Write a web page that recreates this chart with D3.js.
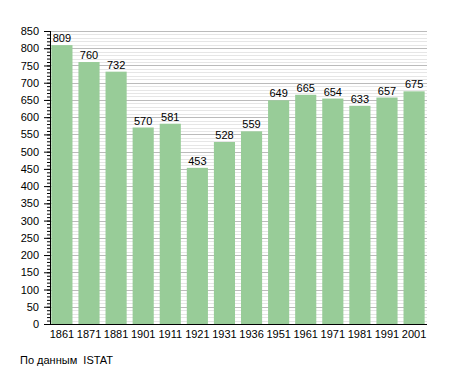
<!DOCTYPE html>
<html>
<head>
<meta charset="utf-8">
<script src="https://cdn.jsdelivr.net/npm/d3@7"></script>
<style>
  body { margin: 0; background: #fff; }
  text { font-family: "Liberation Sans", Arial, sans-serif; fill: #000; }
</style>
</head>
<body>
<svg id="chart" width="455" height="373"></svg>
<script>
let years = ['1861','1871','1881','1901','1911','1921','1931','1936','1951','1961','1971','1981','1991','2001'];
let population = [809,760,732,570,581,453,528,559,649,665,654,633,657,675];
let yTicks = [0,50,100,150,200,250,300,350,400,450,500,550,600,650,700,750,800,850];

let svg = d3.select('#chart');

let x = d3.scaleBand()
  .domain(years)
  .range([50, 426])
  .paddingInner(0.22)
  .paddingOuter(0.05);
let y = d3.scaleLinear()
  .domain([0,850])
  .range([324,31]);

// grid: fine lines every 10, darker every 50
let minor = d3.range(10, 851, 10);
svg.append('g')
  .selectAll('line')
  .data(minor)
  .join('line')
  .attr('x1', 50)
  .attr('x2', 427)
  .attr('y1', function(d){return Math.round(y(d)) + 0.5})
  .attr('y2', function(d){return Math.round(y(d)) + 0.5})
  .attr('stroke', function(d){return d % 50 == 0 ? '#bbbbbb' : '#e6e6e6'})
  .attr('stroke-width', 1);

svg.append('g')
  .selectAll('rect')
  .data(population)
  .join('rect')
  .attr('x', function(d,i){return x(years[i])})
  .attr('width', x.bandwidth())
  .attr('y', function(d){return y(d)})
  .attr('height', function(d){return y(0) - y(d)})
  .attr('fill', '#98cc98');

svg.append('g')
  .selectAll('text')
  .data(population)
  .join('text')
  .attr('x', function(d,i){return x(years[i]) + x.bandwidth()/2})
  .attr('y', function(d){return y(d) - 3})
  .attr('text-anchor', 'middle')
  .style('font-size', '11px')
  .text(function(d){return d});

// y axis with minor ticks
let yAxis = svg.append('g').attr('transform', 'translate(50,0)');
yAxis.call(d3.axisLeft(y).tickValues(d3.range(0, 851, 10)).tickSize(3).tickFormat(''))
  .call(function(g){ g.select('.domain').remove(); });
yAxis.append('g')
  .call(d3.axisLeft(y).tickValues(yTicks).tickSize(6).tickPadding(5))
  .call(function(g){
    g.select('.domain').remove();
    g.selectAll('text').style('font-size', '11px').style('font-family', '"Liberation Sans", Arial, sans-serif');
  });
yAxis.selectAll('line').attr('stroke', '#000');
svg.append('line')
  .attr('x1', 50.5).attr('x2', 50.5)
  .attr('y1', 31).attr('y2', 324)
  .attr('stroke', '#000');

// x axis
let xAxis = svg.append('g').attr('transform', 'translate(0,324)');
xAxis.call(d3.axisBottom(x).tickSize(0).tickPadding(6))
  .call(function(g){
    g.select('.domain').attr('d', 'M49,0.5H427').attr('stroke', '#000');
    g.selectAll('text').style('font-size', '11px').style('font-family', '"Liberation Sans", Arial, sans-serif');
  });

svg.append('text')
  .attr('x', 20)
  .attr('y', 364)
  .style('font-size', '11px')
  .style('white-space', 'pre')
  .text('По данным  ISTAT');
</script>
</body>
</html>
